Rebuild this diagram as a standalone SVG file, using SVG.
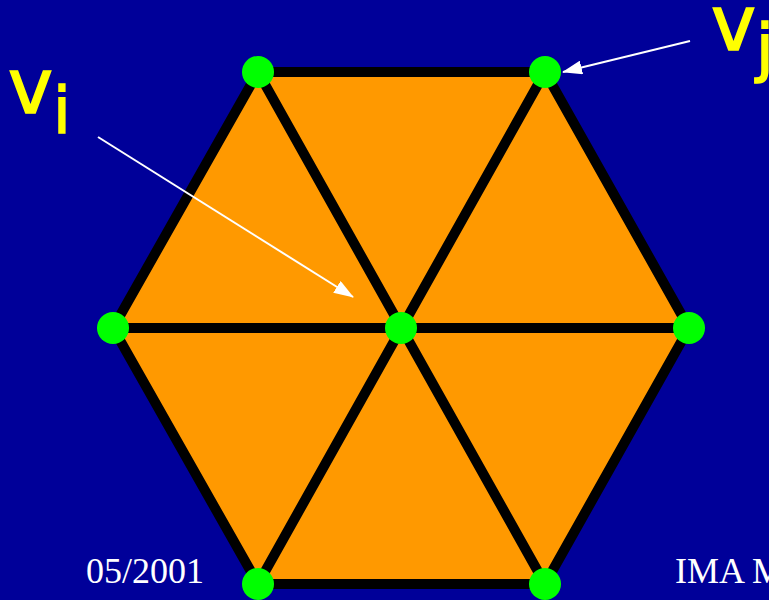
<svg xmlns="http://www.w3.org/2000/svg" width="769" height="600" viewBox="0 0 769 600">
<defs>
<style>
.edge{stroke:#000;stroke-width:10;stroke-linecap:round;fill:none}
.node{fill:#00FF00}
.lbl{fill:#FFFF00;font-family:"DejaVu Sans","Liberation Sans",sans-serif;stroke:#FFFF00;stroke-width:1.5}
.foot{fill:#fff;font-family:"Liberation Serif",serif;font-size:36px}
.ptr{stroke:#fff;stroke-width:2;fill:none}
</style>
<marker id="ah2" viewBox="0 0 20 14" refX="19" refY="7" markerWidth="20" markerHeight="14" markerUnits="userSpaceOnUse" orient="auto">
<path d="M0,0 L20,7 L0,14 z" fill="#fff"/>
</marker>
</defs>
<rect width="769" height="600" fill="#000099"/>
<polygon points="258,72 545,72 689,328 545,584 258,584 113,328" fill="#FF9900"/>
<g id="connectors">
<polygon class="edge" points="258,72 545,72 689,328 545,584 258,584 113,328"/>
<line class="edge" x1="113" y1="328" x2="689" y2="328"/>
<line class="edge" x1="258" y1="72" x2="545" y2="584"/>
<line class="edge" x1="545" y1="72" x2="258" y2="584"/>
<line class="ptr" x1="98" y1="137" x2="353" y2="297" marker-end="url(#ah2)"/>
<line class="ptr" x1="690" y1="41" x2="563" y2="72" marker-end="url(#ah2)"/>
</g>
<g id="n-tl"><circle class="node" cx="258" cy="72" r="16"/></g>
<g id="n-tr"><circle class="node" cx="545" cy="72" r="16"/></g>
<g id="n-l"><circle class="node" cx="113" cy="328" r="16"/></g>
<g id="n-c"><circle class="node" cx="401" cy="328" r="16"/></g>
<g id="n-r"><circle class="node" cx="689" cy="328" r="16"/></g>
<g id="n-bl"><circle class="node" cx="258" cy="584" r="16"/></g>
<g id="n-br"><circle class="node" cx="545" cy="584" r="16"/></g>
<g id="label-vi"><text class="lbl" x="8" y="113" font-size="76">v<tspan font-size="64" dy="20">i</tspan></text></g>
<g id="label-vj"><text class="lbl" x="711" y="50" font-size="76">v<tspan font-size="64" dy="20">j</tspan></text></g>
<text class="foot" x="86" y="583">05/2001</text>
<text class="foot" x="675" y="583">IMA M</text>
</svg>
